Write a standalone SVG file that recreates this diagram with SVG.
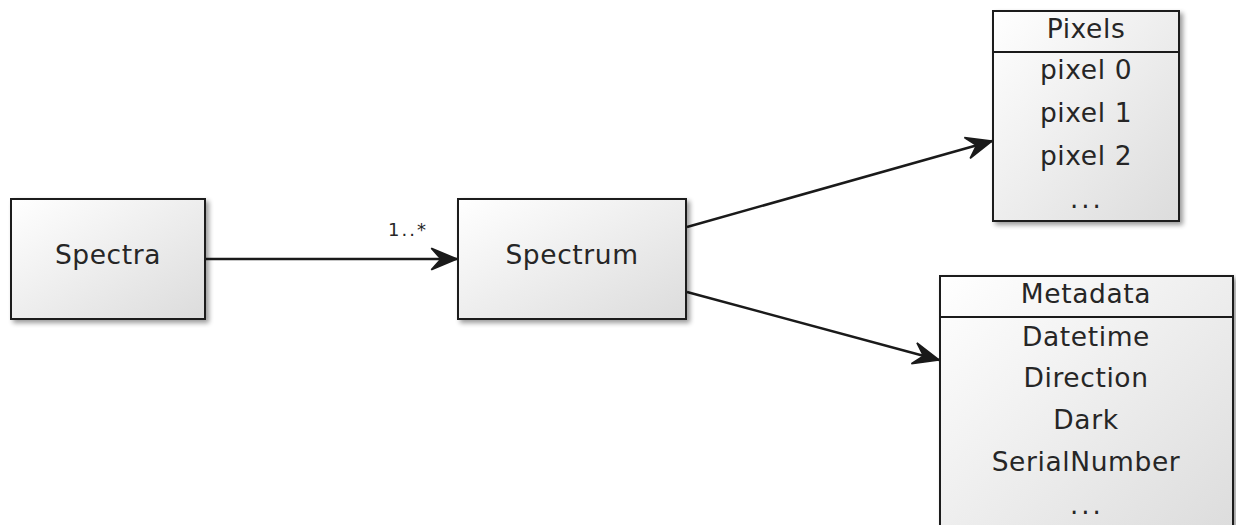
<svg xmlns="http://www.w3.org/2000/svg" width="1236" height="525" viewBox="0 0 1236 525">
<style>
.box{fill:url(#g);stroke:#1a1a1a;stroke-width:2;filter:url(#sh)}
.div{stroke:#1a1a1a;stroke-width:2}
text{font-family:"DejaVu Sans",Verdana,sans-serif;fill:#262626;text-anchor:middle}
.t{font-size:26.5px;letter-spacing:0.6px}
.dots{font-size:26px;letter-spacing:3px}
.lbl{font-size:18px;letter-spacing:2px;text-anchor:start}
.con{stroke:#1a1a1a;stroke-width:2.5;fill:none;marker-end:url(#arr)}
</style>
<defs>
<linearGradient id="g" x1="0" y1="0" x2="1" y2="1">
<stop offset="0" stop-color="#ffffff"/>
<stop offset="1" stop-color="#dcdcdc"/>
</linearGradient>
<filter id="sh" x="-10%" y="-10%" width="130%" height="130%">
<feGaussianBlur in="SourceAlpha" stdDeviation="2.5"/>
<feOffset dx="3" dy="3" result="b"/>
<feComponentTransfer><feFuncA type="linear" slope="0.4"/></feComponentTransfer>
<feMerge><feMergeNode/><feMergeNode in="SourceGraphic"/></feMerge>
</filter>
<marker id="arr" markerUnits="userSpaceOnUse" markerWidth="30" markerHeight="30" viewBox="-26 -12 28 24" refX="0" refY="0" orient="auto">
<path d="M0,0 L-24,-10 L-15,0 L-24,10 Z" fill="#1a1a1a" stroke="#1a1a1a" stroke-width="1.5" stroke-linejoin="miter"/>
</marker>
</defs>
<g id="connectors">
<line class="con" x1="205" y1="259" x2="457" y2="259"/>
<line class="con" x1="687" y1="227" x2="992" y2="141"/>
<line class="con" x1="687" y1="292" x2="939" y2="360"/>
<text class="lbl" x="388" y="236">1..*</text>
</g>
<g id="spectra">
<rect class="box" x="11" y="199" width="194" height="120"/>
<text class="t" x="108" y="264">Spectra</text>
</g>
<g id="spectrum">
<rect class="box" x="458" y="199" width="228" height="120"/>
<text class="t" x="572" y="264">Spectrum</text>
</g>
<g id="pixels">
<rect class="box" x="993" y="11" width="186" height="210"/>
<line class="div" x1="993" y1="52" x2="1179" y2="52"/>
<text class="t" x="1086" y="38">Pixels</text>
<text class="t" x="1086" y="79">pixel 0</text>
<text class="t" x="1086" y="122">pixel 1</text>
<text class="t" x="1086" y="165">pixel 2</text>
<text class="dots" x="1087" y="208">...</text>
</g>
<g id="metadata">
<rect class="box" x="940" y="276" width="293" height="260"/>
<line class="div" x1="940" y1="317" x2="1233" y2="317"/>
<text class="t" x="1086" y="303">Metadata</text>
<text class="t" x="1086" y="346">Datetime</text>
<text class="t" x="1086" y="387">Direction</text>
<text class="t" x="1086" y="429">Dark</text>
<text class="t" x="1086" y="471">SerialNumber</text>
<text class="dots" x="1087" y="514">...</text>
</g>
</svg>
